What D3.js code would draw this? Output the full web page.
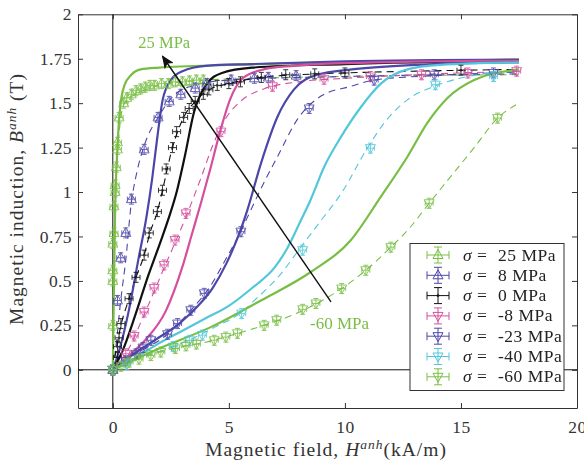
<!DOCTYPE html>
<html>
<head>
<meta charset="utf-8">
<script src="https://cdn.jsdelivr.net/npm/d3@7"></script>
<style>
body { margin: 0; background: #fff; }
text { font-family: "Liberation Serif", "DejaVu Serif", serif; }
</style>
</head>
<body>
<div id="chart"></div>
<script>

// stress levels, legend order
const stressLabels = ["25", "8", "0", "-8", "-23", "-40", "-60"];
const stressColors = ["#78be44", "#4c47a8", "#111111", "#d4509f", "#4c47a8", "#52c7da", "#78be44"];
const markerTypes = ["up", "up", "plus", "down", "down", "down", "down"];

// model curves (solid), [H kA/m, B T]
const solid25 = [[0,0],[0.04,0.4],[0.1,0.9],[0.2,1.25],[0.32,1.48],[0.5,1.6],[0.8,1.66],[1.2,1.69],[2,1.70],[5,1.715],[10,1.73],[17.5,1.745]];
const solid8 = [[0,0],[0.3,0.12],[0.7,0.34],[1.1,0.62],[1.45,0.86],[1.7,1.08],[1.9,1.29],[2.15,1.52],[2.5,1.63],[3,1.68],[4,1.71],[6,1.72],[10,1.735],[17.5,1.745]];
const solid0 = [[0,0],[0.4,0.1],[1,0.32],[1.5,0.52],[2,0.7],[2.4,0.85],[2.75,1.0],[3.1,1.2],[3.5,1.45],[4,1.6],[4.7,1.67],[6,1.7],[10,1.72],[17.5,1.74]];
const solidM8 = [[0,0],[0.7,0.08],[1.42,0.17],[2.28,0.33],[3,0.58],[3.4,0.76],[3.8,0.94],[4.2,1.13],[4.6,1.33],[5.05,1.52],[5.6,1.64],[6.5,1.69],[7.8,1.71],[10,1.725],[17.5,1.74]];
const solidM23 = [[0,0],[0.8,0.08],[1.85,0.17],[2.86,0.26],[3.6,0.35],[4.3,0.46],[4.9,0.6],[5.4,0.75],[5.8,0.9],[6.38,1.16],[7.1,1.425],[7.8,1.576],[8.8,1.66],[10.3,1.69],[13,1.715],[17.5,1.73]];
const solidM40 = [[0,0],[1,0.07],[2,0.15],[3,0.22],[4,0.29],[5,0.36],[6,0.46],[7,0.58],[7.5,0.68],[8.1,0.84],[8.5,0.95],[9.1,1.14],[9.83,1.31],[10.7,1.48],[11.55,1.61],[12.7,1.69],[14.1,1.715],[17.5,1.73]];
const solidM60 = [[0,0],[2,0.12],[4.22,0.24],[6.38,0.39],[8.53,0.55],[10.26,0.73],[11.55,0.974],[12.7,1.2],[13.56,1.39],[14.43,1.53],[15.57,1.63],[17.5,1.69]];

// second model (dashed)
const dashed25 = [[0,0],[0.05,0.5],[0.12,1.0],[0.25,1.3],[0.5,1.5],[1.5,1.58],[3,1.62],[6,1.64],[17.5,1.66]];
const dashed8 = [[0,0],[0.15,0.15],[0.34,0.39],[0.56,0.62],[0.78,0.92],[1.05,1.12],[1.35,1.26],[2,1.43],[2.6,1.54],[3.5,1.6],[5,1.63],[10,1.65],[17.5,1.665]];
const dashed0 = [[0,0],[0.35,0.25],[0.7,0.4],[1,0.52],[1.35,0.645],[1.6,0.77],[1.92,0.89],[2.14,1.01],[2.57,1.25],[3.05,1.42],[3.55,1.51],[4.14,1.575],[5,1.61],[6.4,1.645],[8,1.66],[10,1.67],[15,1.685],[17.5,1.69]];
const dashedM8 = [[0,0],[0.56,0.09],[1.35,0.31],[2.2,0.57],[3.15,0.86],[3.8,1.08],[4.3,1.26],[4.8,1.4],[5.5,1.51],[6.5,1.58],[8,1.62],[10,1.64],[13,1.66],[17.5,1.68]];
const dashedM23 = [[0,0],[1,0.09],[2.36,0.2],[3.36,0.335],[4.2,0.47],[4.9,0.63],[5.52,0.78],[5.95,0.9],[6.5,1.05],[7.1,1.2],[7.96,1.41],[8.97,1.54],[10.26,1.595],[11.25,1.63],[13.85,1.655],[17.5,1.675]];
const dashedM40 = [[0,0],[1,0.06],[2.6,0.13],[3.5,0.18],[4.4,0.24],[5.5,0.32],[6.1,0.39],[7.24,0.54],[8.1,0.69],[8.97,0.84],[9.83,0.99],[10.98,1.25],[11.7,1.39],[12.7,1.52],[13.85,1.595],[15.3,1.65],[17.5,1.68]];
const dashedM60 = [[0,0],[1,0.055],[2,0.1],[3,0.13],[4,0.155],[5,0.19],[6.5,0.25],[7.5,0.295],[8.75,0.37],[9.86,0.457],[10.9,0.56],[11.98,0.69],[12.8,0.8],[13.63,0.937],[14.14,1.02],[15.57,1.25],[16.58,1.416],[17.5,1.5]];

// measurements (markers with error bars)
const meas25 = [[0,0],[0,0.25],[0,0.5],[0,0.56],[0,0.71],[0.05,0.77],[0.05,0.92],[0.1,1.0],[0.1,1.04],[0.15,1.14],[0.2,1.24],[0.2,1.28],[0.27,1.42],[0.47,1.5],[0.6,1.53],[0.8,1.55],[1.0,1.57],[1.2,1.58],[1.4,1.59],[1.6,1.6],[1.8,1.6],[2.1,1.61],[2.4,1.61],[2.7,1.62],[3.0,1.62],[3.3,1.625],[3.6,1.63],[3.9,1.63]];
const meas8 = [[0,0],[0.2,0.39],[0.34,0.63],[0.56,0.77],[0.8,0.96],[1.35,1.24],[1.95,1.42],[2.43,1.51],[2.93,1.55],[3.55,1.585],[4.05,1.61],[5.1,1.63],[6.1,1.64],[6.7,1.645],[7.9,1.655]];
const meas0 = [[0,0],[0.2,0.07],[0.2,0.13],[0.27,0.18],[0.35,0.26],[0.7,0.4],[1,0.52],[1.35,0.645],[1.57,0.77],[1.92,0.89],[2.14,1.01],[2.3,1.13],[2.57,1.25],[2.75,1.34],[3.05,1.42],[3.29,1.47],[3.55,1.51],[3.9,1.55],[4.14,1.575],[4.5,1.6],[5,1.61],[5.5,1.62],[6.4,1.645],[7.45,1.66],[8.7,1.665],[10,1.67],[15,1.685]];
const measM8 = [[0,0],[0.56,0.09],[0.92,0.19],[1.35,0.325],[1.78,0.46],[2.21,0.59],[2.68,0.73],[3.15,0.88],[4.66,1.34],[6.88,1.595],[9.1,1.635],[11.1,1.65],[13.3,1.66],[15.3,1.67],[17.4,1.68]];
const measM23 = [[0,0],[0.55,0.05],[1,0.09],[1.3,0.125],[1.64,0.166],[2.36,0.2],[2.79,0.26],[3.36,0.335],[3.94,0.43],[5.52,0.777],[8.46,1.47],[11.26,1.63],[13.85,1.66],[16.4,1.67]];
const measM40 = [[0,0],[0.6,0.03],[2.6,0.13],[3.3,0.166],[3.86,0.195],[5.55,0.316],[8.18,0.673],[11.1,1.247],[13.9,1.604],[16.4,1.65]];
const measM60 = [[0,0],[0.35,0.02],[0.7,0.043],[1.13,0.06],[1.64,0.08],[2.07,0.1],[2.7,0.12],[3.15,0.135],[3.6,0.145],[4.37,0.166],[4.87,0.184],[5.37,0.205],[6.52,0.25],[7.06,0.279],[8.18,0.34],[8.75,0.373],[9.86,0.457],[10.9,0.56],[11.98,0.69],[13.63,0.937],[16.58,1.416]];

const xTicks = [0, 5, 10, 15, 20];
const yTicks = [0, 0.25, 0.5, 0.75, 1, 1.25, 1.5, 1.75, 2];

const solids = [solid25, solid8, solid0, solidM8, solidM23, solidM40, solidM60];
const dasheds = [dashed25, dashed8, dashed0, dashedM8, dashedM23, dashedM40, dashedM60];
const measured = [meas25, meas8, meas0, measM8, measM23, measM40, measM60];

const series = stressLabels.map((s, i) => ({
	label: s, color: stressColors[i], marker: markerTypes[i],
	solid: solids[i], dashed: dasheds[i], points: measured[i]
}));

const width = 584, height = 461;
const plotLeft = 78, plotRight = 577, plotTop = 14.3, plotBottom = 408;

const svg = d3.select("#chart").append("svg")
	.attr("width", width)
	.attr("height", height);

const x = d3.scaleLinear().domain([-1.5, 20]).range([plotLeft, plotRight]);
const y = d3.scaleLinear().domain([-0.215, 2]).range([plotBottom, plotTop]);

const defs = svg.append("defs");
defs.append("clipPath").attr("id", "plot-clip")
	.append("rect")
		.attr("x", plotLeft).attr("y", plotTop)
		.attr("width", plotRight - plotLeft).attr("height", plotBottom - plotTop);

defs.append("marker")
	.attr("id", "arrowhead")
	.attr("viewBox", "0 0 12 10")
	.attr("refX", 11).attr("refY", 5)
	.attr("markerUnits", "userSpaceOnUse")
	.attr("markerWidth", 14).attr("markerHeight", 11)
	.attr("orient", "auto")
	.append("path")
		.attr("d", "M0,0 L12,5 L0,10 L3,5 Z")
		.attr("fill", "#111");

// axes (ticks pointing inward on all four sides)
const axisColor = "#333";
function styleAxis(g) {
	g.selectAll("path, line").attr("stroke", axisColor);
	g.selectAll("text").attr("fill", "#333")
		.style("font-size", "17.5px")
		.style("letter-spacing", "0.4px");
}

svg.append("g")
	.attr("transform", `translate(0,${plotBottom})`)
	.call(d3.axisBottom(x).tickValues(xTicks).tickSizeInner(-5).tickSizeOuter(0).tickPadding(13))
	.call(styleAxis);
svg.append("g")
	.attr("transform", `translate(0,${plotTop})`)
	.call(d3.axisTop(x).tickValues(xTicks).tickSizeInner(-5).tickSizeOuter(0).tickFormat(""))
	.call(styleAxis);
svg.append("g")
	.attr("transform", `translate(${plotLeft},0)`)
	.call(d3.axisLeft(y).tickValues(yTicks).tickSizeInner(-5).tickSizeOuter(0).tickPadding(6).tickFormat((d) => String(d)))
	.call(styleAxis);
svg.append("g")
	.attr("transform", `translate(${plotRight},0)`)
	.call(d3.axisRight(y).tickValues(yTicks).tickSizeInner(-5).tickSizeOuter(0).tickFormat(""))
	.call(styleAxis);

// axis titles
const xTitle = svg.append("text")
	.attr("x", 326).attr("y", 456)
	.attr("text-anchor", "middle")
	.attr("fill", "#333")
	.style("font-size", "19.5px")
	.style("letter-spacing", "1px");
xTitle.append("tspan").text("Magnetic field, ");
xTitle.append("tspan").attr("font-style", "italic").text("H");
xTitle.append("tspan").attr("font-style", "italic").attr("dy", -7).style("font-size", "13.5px").text("anh");
xTitle.append("tspan").attr("dy", 7).text("(kA/m)");

const yTitle = svg.append("text")
	.attr("transform", "translate(23,199) rotate(-90)")
	.attr("text-anchor", "middle")
	.attr("fill", "#333")
	.style("font-size", "19.5px")
	.style("letter-spacing", "1px");
yTitle.append("tspan").text("Magnetic induction, ");
yTitle.append("tspan").attr("font-style", "italic").text("B");
yTitle.append("tspan").attr("font-style", "italic").attr("dy", -7).style("font-size", "13.5px").text("anh");
yTitle.append("tspan").attr("dy", 7).text(" (T)");

const plot = svg.append("g").attr("clip-path", "url(#plot-clip)");

// zero lines
plot.append("line")
	.attr("x1", x(0)).attr("x2", x(0)).attr("y1", plotTop).attr("y2", plotBottom)
	.attr("stroke", "#111").attr("stroke-width", 1);
plot.append("line")
	.attr("x1", plotLeft).attr("x2", plotRight).attr("y1", y(0)).attr("y2", y(0))
	.attr("stroke", "#111").attr("stroke-width", 1);

const line = d3.line()
	.x((d) => x(d[0]))
	.y((d) => y(d[1]))
	.curve(d3.curveMonotoneX);

// marker with error bars
function glyph(g, type, color, hw, hv, cap) {
	const st = (sel) => sel.attr("stroke", color).attr("stroke-width", 1).attr("fill", "none");
	g.append("line").attr("x1", -hw).attr("x2", hw).attr("y1", 0).attr("y2", 0).call(st);
	g.append("line").attr("x1", -hw).attr("x2", -hw).attr("y1", -cap).attr("y2", cap).call(st);
	g.append("line").attr("x1", hw).attr("x2", hw).attr("y1", -cap).attr("y2", cap).call(st);
	g.append("line").attr("x1", 0).attr("x2", 0).attr("y1", -hv).attr("y2", hv).call(st);
	g.append("line").attr("x1", -cap).attr("x2", cap).attr("y1", -hv).attr("y2", -hv).call(st);
	g.append("line").attr("x1", -cap).attr("x2", cap).attr("y1", hv).attr("y2", hv).call(st);
	if (type === "up") {
		g.append("path").attr("d", "M0,-5.5L5,3.5L-5,3.5Z").call(st);
	} else if (type === "down") {
		g.append("path").attr("d", "M0,5.5L5,-3.5L-5,-3.5Z").call(st);
	} else {
		g.append("circle").attr("r", 1.3).attr("fill", color);
	}
}

// dashed and solid curves
series.forEach((s) => {
	plot.append("path")
		.datum(s.dashed)
		.attr("d", line)
		.attr("fill", "none")
		.attr("stroke", s.color)
		.attr("stroke-width", 1.1)
		.attr("stroke-dasharray", "7,5");
});
series.forEach((s) => {
	plot.append("path")
		.datum(s.solid)
		.attr("d", line)
		.attr("fill", "none")
		.attr("stroke", s.color)
		.attr("stroke-width", 2.2);
});

// measured points
series.forEach((s) => {
	plot.append("g")
		.attr("opacity", 0.85)
		.selectAll(".pt")
			.data(s.points).enter()
		.append("g")
			.attr("class", "pt")
			.attr("transform", (d) => `translate(${x(d[0])},${y(d[1])})`)
			.each(function() { glyph(d3.select(this), s.marker, s.color, 4, 5, 2.5); });
});

// arrow and annotations
svg.append("line")
	.attr("x1", x(9.4)).attr("y1", y(0.382))
	.attr("x2", x(2.14)).attr("y2", y(1.764))
	.attr("stroke", "#111").attr("stroke-width", 1.4)
	.attr("marker-end", "url(#arrowhead)");

svg.append("text")
	.attr("x", x(1.1)).attr("y", y(1.81))
	.attr("fill", stressColors[0])
	.style("font-size", "16.5px")
	.text("25 MPa");
svg.append("text")
	.attr("x", x(8.5)).attr("y", y(0.23))
	.attr("fill", stressColors[6])
	.style("font-size", "17px")
	.text("-60 MPa");

// legend
const legend = svg.append("g");
legend.append("rect")
	.attr("x", 410).attr("y", 243.5)
	.attr("width", 154).attr("height", 147)
	.attr("fill", "#fff")
	.attr("stroke", "#333").attr("stroke-width", 1);

const rows = legend.selectAll(".row")
	.data(series).enter()
	.append("g")
		.attr("class", "row")
		.attr("transform", (d, i) => `translate(0,${255 + i * 20.3})`);

rows.each(function(d) {
	const g = d3.select(this).append("g").attr("transform", "translate(438,0)");
	glyph(g, d.marker, d.color, 11, 8, 4);
});

const labels = rows.append("text")
	.attr("y", 5.5)
	.attr("fill", "#222")
	.style("font-size", "17.5px");
labels.append("tspan").attr("x", 463).attr("font-style", "italic").text("σ");
labels.append("tspan").attr("x", 477).text("=");
labels.append("tspan").attr("x", 498).style("letter-spacing", "0.5px").text((d) => `${d.label} MPa`);

</script>
</body>
</html>
